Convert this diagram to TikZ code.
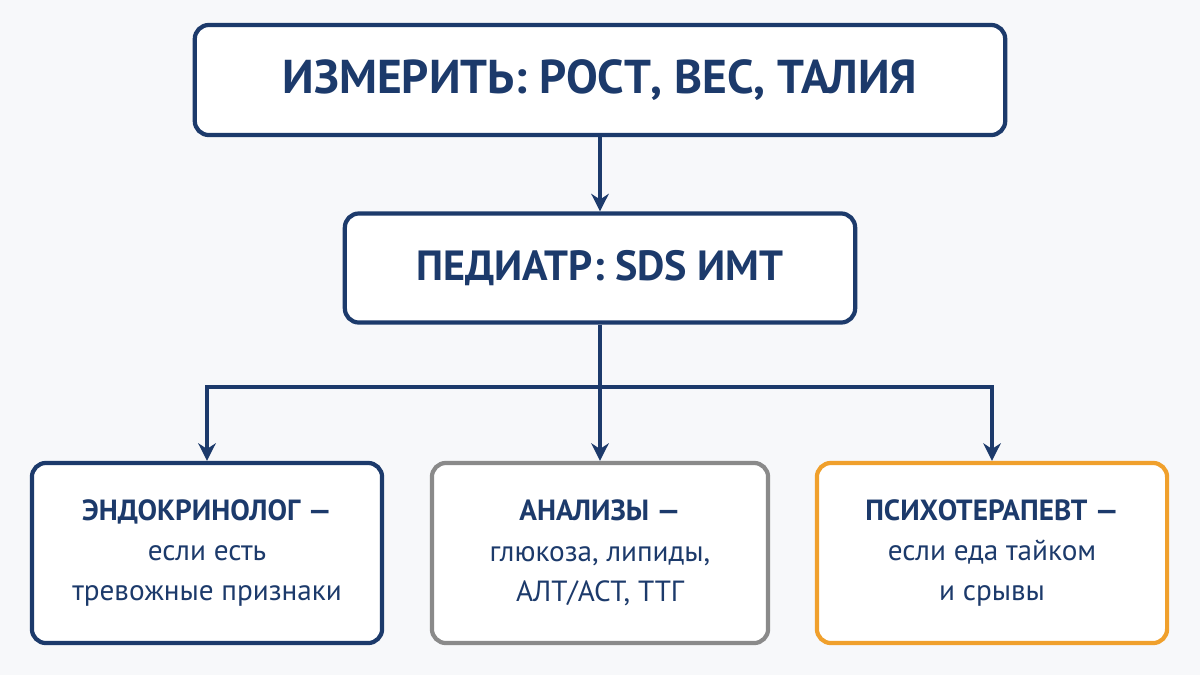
\documentclass[tikz,border=0pt]{standalone}
\usepackage{fontspec}
\setmainfont{PT Sans}
\usetikzlibrary{arrows.meta}
\definecolor{navy}{HTML}{1C3A6B}
\definecolor{greybox}{HTML}{8A8A8A}
\definecolor{orangebox}{HTML}{F0A02C}
\definecolor{bgpaper}{HTML}{F7F8FA}
\begin{document}
\begin{tikzpicture}[x=0.01cm,y=-0.01cm,
    box/.style={draw=navy,line width=1.2pt,rounded corners=4pt,fill=white,
      text=navy,align=center,inner sep=0pt},
    link/.style={draw=navy,line width=0.9pt,-{Stealth[length=5pt,width=5pt]}}]
  \fill[bgpaper] (0,0) rectangle (1200,675);
  \useasboundingbox (0,0) rectangle (1200,675);
  \node[box,minimum width=8.1cm,minimum height=1.1cm,
    font=\fontsize{13.5}{16}\selectfont\bfseries] (measure) at (600,80) {ИЗМЕРИТЬ: РОСТ, ВЕС, ТАЛИЯ};
  \node[box,minimum width=5.1cm,minimum height=1.09cm,
    font=\fontsize{12}{14}\selectfont\bfseries] (pediatr) at (600,268) {ПЕДИАТР: SDS ИМТ};
  \foreach \name/\x/\w/\col/\txt in {%
    endo/207/3.5/navy/{\textbf{ЭНДОКРИНОЛОГ —}\\если есть\\тревожные признаки},
    labs/600/3.36/greybox/{\textbf{АНАЛИЗЫ —}\\глюкоза, липиды,\\АЛТ/АСТ, ТТГ},
    psych/992/3.5/orangebox/{\textbf{ПСИХОТЕРАПЕВТ —}\\если еда тайком\\и срывы}}{%
      \node[box,draw=\col,minimum width=\w cm,minimum height=1.8cm,
        font=\fontsize{8.3}{11.5}\selectfont] (\name) at (\x,553) {\txt};
    }
  \coordinate (split) at (600,387);
  \draw[link] (measure) -- (pediatr);
  \draw[link] (pediatr) -- (labs);
  \draw[link] (split) -| (endo);
  \draw[link] (split) -| (psych);
\end{tikzpicture}
\end{document}
